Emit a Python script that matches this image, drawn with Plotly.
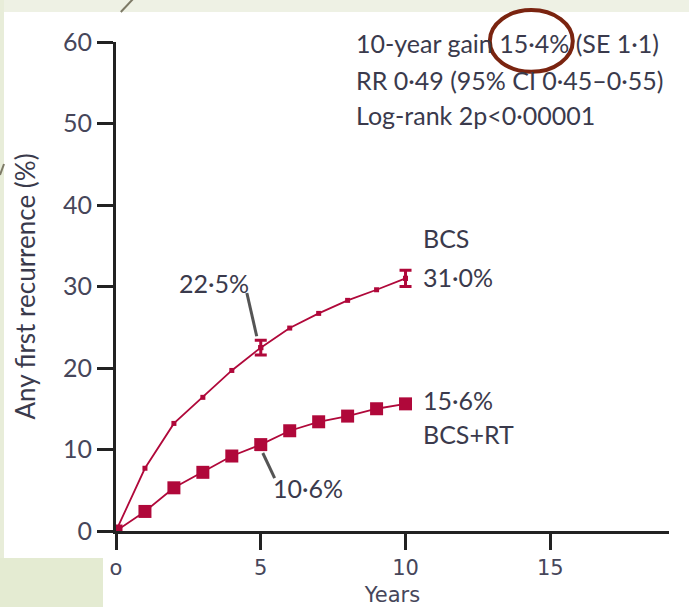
import plotly.graph_objects as go

# ---- data ----
years = [0, 1, 2, 3, 4, 5, 6, 7, 8, 9, 10]
bcs = [0, 7.7, 13.2, 16.4, 19.7, 22.5, 24.9, 26.7, 28.3, 29.6, 31.0]
bcs_rt = [0, 2.4, 5.3, 7.2, 9.2, 10.6, 12.3, 13.4, 14.1, 15.0, 15.6]
err_years = [5, 10]
err_vals = [22.5, 31.0]
err_se = [0.9, 1.0]
y_ticks = [0, 10, 20, 30, 40, 50, 60]
x_ticks = [0, 5, 10, 15]
x_ticklabels = ["o", "5", "10", "15"]

RED = "#B0083A"
TXT = "#3a3a4c"
FONT = "Lato, sans-serif"

fig = go.Figure()
fig.add_trace(go.Scatter(x=years, y=bcs, mode="lines+markers",
                         line=dict(color=RED, width=1.8),
                         marker=dict(symbol="square", size=5, color=RED),
                         name="BCS", showlegend=False))
fig.add_trace(go.Scatter(x=err_years, y=err_vals, mode="markers",
                         marker=dict(symbol="square", size=5, color=RED),
                         error_y=dict(type="data", array=err_se, visible=True,
                                      color=RED, thickness=3, width=6),
                         showlegend=False))
fig.add_trace(go.Scatter(x=years, y=bcs_rt, mode="lines+markers",
                         line=dict(color=RED, width=1.8),
                         marker=dict(symbol="square", size=13, color=RED),
                         name="BCS+RT", showlegend=False))

ann_font = dict(family=FONT, size=25, color=TXT)
anns = [
    dict(x=8.22, y=59.9, text="10-year gain 15·4% (SE 1·1)"),
    dict(x=8.22, y=55.3, text="RR 0·49 (95% CI 0·45–0·55)"),
    dict(x=8.22, y=51.0, text="Log-rank 2p<0·00001"),
    dict(x=10.52, y=35.95, text="BCS"),
    dict(x=10.52, y=31.2, text="31·0%"),
    dict(x=10.52, y=16.1, text="15·6%"),
    dict(x=10.52, y=11.9, text="BCS+RT"),
]
annotations = [dict(xref="x", yref="y", showarrow=False, xanchor="left",
                    yanchor="middle", font=ann_font, **a) for a in anns]
annotations += [
    dict(xref="x", yref="y", x=3.38, y=30.4, text="22·5%", showarrow=False,
         font=ann_font),
    dict(xref="x", yref="y", x=6.62, y=5.28, text="10·6%", showarrow=False,
         font=ann_font),
]

shapes = [
    # slide background pieces
    dict(type="rect", xref="paper", yref="paper", x0=-0.2098, x1=1.0362,
         y0=1.0613, y1=1.09, fillcolor="#EEF1E4", line_width=0, layer="below"),
    dict(type="rect", xref="paper", yref="paper", x0=-0.2098, x1=-0.2025,
         y0=-0.16, y1=1.09, fillcolor="#E8EDD9", line_width=0, layer="below"),
    dict(type="rect", xref="paper", yref="paper", x0=-0.2098, x1=-0.0235,
         y0=-0.16, y1=-0.0552, fillcolor="#E4EBD2", line_width=0, layer="below"),
    dict(type="line", xref="paper", yref="paper", x0=0.0087, y0=1.0613,
         x1=0.0325, y1=1.09, line=dict(color="#7d7a66", width=2)),
    dict(type="line", xref="paper", yref="paper", x0=-0.2098, y0=0.7280,
         x1=-0.2025, y1=0.7505, line=dict(color="#7d7a66", width=2)),
    # leader lines
    dict(type="line", xref="x", yref="y", x0=4.52, y0=29.2, x1=4.86, y1=23.9,
         line=dict(color="#555555", width=3)),
    dict(type="line", xref="x", yref="y", x0=5.07, y0=9.57, x1=5.48, y1=6.5,
         line=dict(color="#555555", width=3)),
    # highlight ellipse
    dict(type="circle", xref="paper", yref="paper", x0=0.676, x1=0.826,
         y0=0.939, y1=1.0654, line=dict(color="#7A2410", width=4)),
]

fig.update_layout(
    width=689, height=607,
    margin=dict(l=116, r=20, t=42, b=76),
    paper_bgcolor="white", plot_bgcolor="white",
    annotations=annotations, shapes=shapes,
    xaxis=dict(range=[0, 19.1], tickvals=x_ticks, ticktext=x_ticklabels,
               automargin=False,
               showline=True, linecolor="#222", linewidth=3,
               ticks="outside", ticklen=16, tickwidth=3, tickcolor="#222",
               showgrid=False, zeroline=False,
               tickfont=dict(family="DejaVu Sans", size=21, color="#46465a"),
               title=dict(text="Years", standoff=15,
                          font=dict(family="DejaVu Sans", size=21, color="#46465a"))),
    yaxis=dict(range=[0, 60], tickvals=y_ticks, automargin=False,
               showline=True, linecolor="#222", linewidth=3,
               ticks="outside", ticklen=16, tickwidth=3, tickcolor="#222",
               showgrid=False, zeroline=False,
               tickfont=dict(family=FONT, size=25, color="#46465a"),
               title=dict(text="Any first recurrence (%)", standoff=20,
                          font=dict(family=FONT, size=26, color=TXT))),
)

fig.write_html("out.html")
